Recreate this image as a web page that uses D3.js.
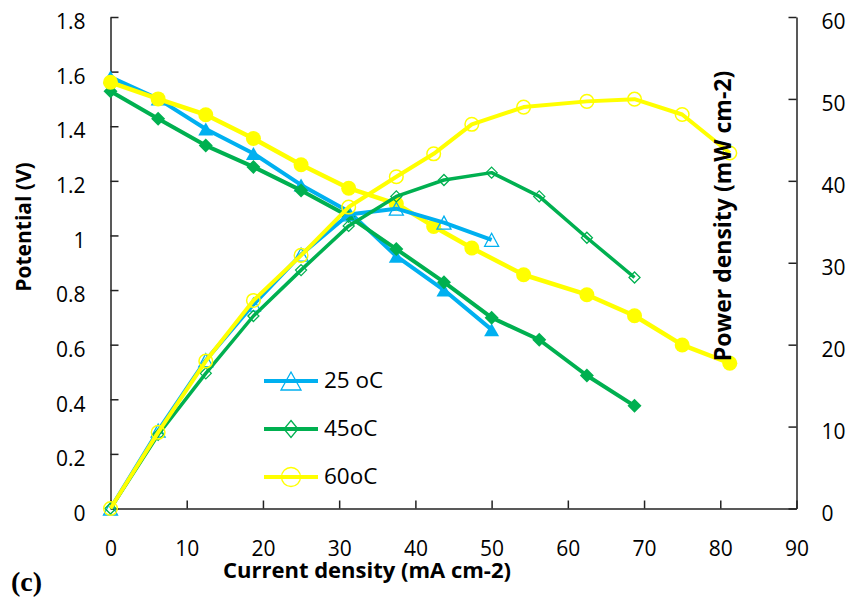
<!DOCTYPE html>
<html>
<head>
<meta charset="utf-8">
<script src="https://cdn.jsdelivr.net/npm/d3@7/dist/d3.min.js"></script>
<style>
  html, body { margin: 0; padding: 0; background: #fff; }
  svg { display: block; }
  text { fill: #000; }
</style>
</head>
<body>
<svg id="chart" width="854" height="598"></svg>
<script>
// ---- data: current density (mA cm-2), potential (V), power density (mW cm-2)
const current25 = [0, 6.25, 12.5, 18.75, 25, 31.25, 37.5, 43.75, 50];
const potential25 = [1.58, 1.50, 1.39, 1.30, 1.185, 1.088, 0.924, 0.80, 0.655];
const power25 = [0, 9.5, 18.1, 24.9, 31.0, 35.9, 36.6, 34.9, 32.8];

const current45 = [0, 6.25, 12.5, 18.75, 25, 31.25, 37.5, 43.75, 50, 56.25, 62.5, 68.75];
const potential45 = [1.528, 1.427, 1.329, 1.251, 1.165, 1.07, 0.95, 0.829, 0.699, 0.618, 0.487, 0.376];
const power45 = [0, 9.0, 16.5, 23.5, 29.1, 34.5, 38.1, 40.1, 41.0, 38.1, 33.05, 28.2];

const current60 = [0, 6.25, 12.5, 18.75, 25, 31.25, 37.5, 42.4, 47.4, 54.2, 62.5, 68.75, 75, 81.25];
const potential60 = [1.561, 1.50, 1.442, 1.355, 1.259, 1.173, 1.116, 1.033, 0.954, 0.856, 0.783, 0.706, 0.599, 0.532];
const power60 = [0, 9.3, 18.0, 25.4, 30.9, 36.8, 40.5, 43.3, 46.9, 49.0, 49.7, 49.97, 48.1, 43.4];

const seriesNames = ["25 oC", "45oC", "60oC"];
const xTicks = [0, 10, 20, 30, 40, 50, 60, 70, 80, 90];
const leftTicks = [0, 0.2, 0.4, 0.6, 0.8, 1, 1.2, 1.4, 1.6, 1.8];
const leftTickLabels = ["0", "0.2", "0.4", "0.6", "0.8", "1", "1.2", "1.4", "1.6", "1.8"];
const rightTicks = [0, 10, 20, 30, 40, 50, 60];

// ---- layout
const plot = { left: 110.5, right: 796.5, top: 17, bottom: 508.5 };
const colors = { s25: "#00B0F0", s45: "#00B050", s60: "#FFFF00" };
const sans = "'Open Sans', 'Liberation Sans', sans-serif";

const svg = d3.select("#chart");

const x = d3.scaleLinear().domain([0, 90]).range([plot.left, plot.right]);
const yL = d3.scaleLinear().domain([0, 1.8]).range([plot.bottom, plot.top]);
const yR = d3.scaleLinear().domain([0, 60]).range([plot.bottom, plot.top]);

// ---- axes (ticks point into the plot area)
const axisColor = "#222";
function styleAxis(g) {
  g.select(".domain").attr("stroke", axisColor).attr("stroke-width", 1.5);
  g.selectAll(".tick line").attr("stroke", axisColor).attr("stroke-width", 1.5);
  g.selectAll(".tick text")
    .style("font-family", sans).style("font-size", "21px").attr("fill", "#000");
}

svg.append("g")
  .attr("transform", `translate(${plot.left},0)`)
  .call(d3.axisLeft(yL).tickValues(leftTicks).tickSizeInner(-8).tickSizeOuter(0).tickPadding(25)
    .tickFormat((d, i) => leftTickLabels[i]))
  .call(styleAxis)
  .call(g => g.selectAll(".tick text").attr("dy", "0.56em"));

svg.append("g")
  .attr("transform", `translate(${plot.right},0)`)
  .call(d3.axisRight(yR).tickValues(rightTicks).tickSizeInner(-8).tickSizeOuter(0).tickPadding(25)
    .tickFormat(d3.format("d")))
  .call(styleAxis)
  .call(g => g.selectAll(".tick text").attr("dy", "0.56em"));

svg.append("g")
  .attr("transform", `translate(0,${plot.bottom})`)
  .call(d3.axisBottom(x).tickValues(xTicks).tickSizeInner(-8).tickSizeOuter(0).tickPadding(33)
    .tickFormat(d3.format("d")))
  .call(styleAxis);

// ---- marker shapes
function trianglePath(w, h) {
  return `M0,${-h / 2}L${w / 2},${h / 2}L${-w / 2},${h / 2}Z`;
}
function diamondPath(w, h) {
  return `M0,${-h / 2}L${w / 2},0L0,${h / 2}L${-w / 2},0Z`;
}
function circlePath(r) {
  return `M${r},0A${r},${r} 0 1,1 ${-r},0A${r},${r} 0 1,1 ${r},0Z`;
}

function drawSeries(xs, ys, yScale, color, lineWidth, markerPath, filled, markerStroke) {
  const pts = xs.map((v, i) => [v, ys[i]]);
  const line = d3.line().x(d => x(d[0])).y(d => yScale(d[1]));
  const g = svg.append("g");
  g.append("path")
    .attr("d", line(pts))
    .attr("fill", "none")
    .attr("stroke", color)
    .attr("stroke-width", lineWidth)
    .attr("stroke-linejoin", "round");
  g.selectAll("path.mk")
    .data(pts)
    .join("path")
    .attr("class", "mk")
    .attr("d", markerPath)
    .attr("transform", d => `translate(${x(d[0])},${yScale(d[1])})`)
    .attr("fill", filled ? color : "none")
    .attr("stroke", color)
    .attr("stroke-width", filled ? 0 : markerStroke);
}

// potential curves (filled markers, left axis)
drawSeries(current25, potential25, yL, colors.s25, 4, trianglePath(15, 13), true);
drawSeries(current45, potential45, yL, colors.s45, 4, diamondPath(14, 14), true);
drawSeries(current60, potential60, yL, colors.s60, 4.5, circlePath(7.5), true);

// power density curves (open markers, right axis)
drawSeries(current25, power25, yR, colors.s25, 4, trianglePath(14, 13), false, 1.3);
drawSeries(current45, power45, yR, colors.s45, 3.5, diamondPath(11, 11), false, 1.3);
drawSeries(current60, power60, yR, colors.s60, 4, circlePath(6.8), false, 1.5);

// ---- legend
const legendRows = [
  { name: seriesNames[0], color: colors.s25, marker: trianglePath(20, 18), y: 381 },
  { name: seriesNames[1], color: colors.s45, marker: diamondPath(14, 17), y: 429 },
  { name: seriesNames[2], color: colors.s60, marker: circlePath(9.5), y: 477 }
];
const legend = svg.append("g");
legendRows.forEach(r => {
  legend.append("line")
    .attr("x1", 264).attr("x2", 318).attr("y1", r.y).attr("y2", r.y)
    .attr("stroke", r.color).attr("stroke-width", 4);
  legend.append("path")
    .attr("d", r.marker)
    .attr("transform", `translate(291,${r.y})`)
    .attr("fill", "none").attr("stroke", r.color).attr("stroke-width", 1.3);
  legend.append("text")
    .attr("x", 324).attr("y", r.y + 7)
    .style("font-family", sans).style("font-size", "22.5px")
    .text(r.name);
});

// ---- axis titles
svg.append("text")
  .attr("transform", "translate(31,227) rotate(-90)")
  .attr("text-anchor", "middle")
  .style("font-family", sans).style("font-size", "21px").style("font-weight", "bold")
  .text("Potential (V)");

svg.append("text")
  .attr("transform", "translate(731,216) rotate(-90)")
  .attr("text-anchor", "middle")
  .style("font-family", sans).style("font-size", "23px").style("font-weight", "bold")
  .text("Power density (mW cm-2)");

svg.append("text")
  .attr("x", 367).attr("y", 578)
  .attr("text-anchor", "middle")
  .style("font-family", sans).style("font-size", "22px").style("font-weight", "bold")
  .text("Current density (mA cm-2)");

svg.append("text")
  .attr("x", 11).attr("y", 591)
  .style("font-family", "'Liberation Serif', 'DejaVu Serif', serif")
  .style("font-size", "28px").style("font-weight", "bold")
  .text("(c)");
</script>
</body>
</html>
